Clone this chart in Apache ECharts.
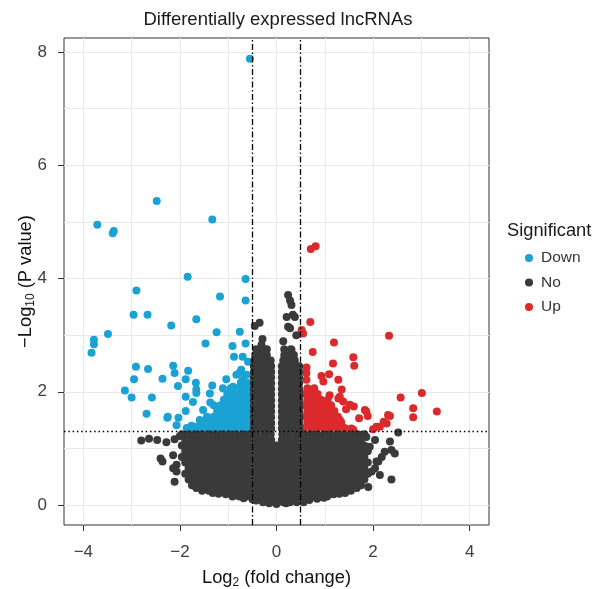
<!DOCTYPE html>
<html><head><meta charset="utf-8">
<script src="https://cdn.jsdelivr.net/npm/echarts@6/dist/echarts.min.js"></script>
<style>html,body{margin:0;padding:0;background:#fff}#c{width:596px;height:589px}</style>
</head><body><div id="c"></div>
<script>
// ---- axes / reference values ----
const xTicks = [-4, -2, 0, 2, 4];
const yTicks = [0, 2, 4, 6, 8];
const xGrid = [-4, -3, -2, -1, 0, 1, 2, 3, 4];
const yGrid = [0, 1, 2, 3, 4, 5, 6, 7, 8];
const fcCut = [-0.5, 0.5];
const pCut = 1.301;
const categories = ['Down', 'No', 'Up'];

// ---- Down (blue) ----
const downPoints = [[-0.55,7.88],[-2.48,5.37],[-3.71,4.95],[-3.39,4.80],[-3.37,4.84],[-1.33,5.04],[-1.84,4.03],[-0.64,3.99],
[-2.90,3.79],[-1.17,3.68],[-0.64,3.61],[-2.96,3.36],[-2.67,3.36],[-2.18,3.17],[-1.66,3.28],[-3.49,3.02],[-3.78,2.92],
[-3.78,2.84],[-3.83,2.69],[-1.24,3.05],[-0.76,3.06],[-1.47,2.85],[-0.91,2.81],[-0.64,2.85],[-0.88,2.62],[-0.70,2.62],
[-0.59,2.53],[-2.91,2.44],[-2.66,2.40],[-2.14,2.46],[-2.11,2.33],[-1.83,2.37],[-2.95,2.22],[-2.36,2.23],[-1.88,2.22],
[-2.04,2.10],[-1.67,2.16],[-1.66,2.04],[-1.66,1.98],[-3.14,2.02],[-3.00,1.90],[-2.58,1.90],[-1.88,1.91],[-1.73,1.82],
[-1.88,1.66],[-2.69,1.61],[-2.26,1.54],[-2.03,1.54],[-2.07,1.41],[-1.33,2.11],[-0.73,2.39],[-0.83,2.30],[-0.62,2.30],
[-1.04,2.22],[-1.11,2.06],[-0.90,2.09],[-0.66,2.15],[-1.38,1.97],[-1.37,1.81],[-1.52,1.68],[-1.59,1.50],[-1.76,1.40],
[-1.66,1.38],[-0.76,2.34],[-0.70,2.21],[-2.25,1.56]];
const downRows = [
 [1.36, [-1.86,-1.72,-1.58,-1.44,-1.30,-1.16,-1.02,-0.88,-0.74,-0.60]],
 [1.46, [-1.51,-1.37,-1.23,-1.09,-0.95,-0.81,-0.67,-0.55]],
 [1.56, [-1.44,-1.30,-1.16,-1.02,-0.88,-0.74,-0.60]],
 [1.66, [-1.23,-1.09,-0.95,-0.81,-0.67,-0.55]],
 [1.76, [-1.30,-1.16,-1.02,-0.88,-0.74,-0.60]],
 [1.86, [-1.09,-0.95,-0.81,-0.67,-0.55]],
 [1.96, [-1.02,-0.88,-0.74,-0.60]],
 [2.06, [-0.95,-0.81,-0.67,-0.55]],
 [2.16, [-0.74,-0.60]]
];

// ---- Up (red) ----
const upPoints = [[0.70,3.23],[0.52,3.09],[0.55,3.03],[2.33,2.99],[1.19,2.87],[0.75,2.70],[1.59,2.61],[1.61,2.46],[1.17,2.50],
[0.62,2.43],[0.62,2.33],[0.62,2.21],[0.93,2.28],[1.09,2.31],[0.97,2.18],[1.28,2.21],[1.35,2.04],[1.10,1.94],[1.28,1.88],
[2.57,1.90],[3.01,1.98],[2.83,1.71],[2.83,1.55],[3.32,1.65],[1.83,1.68],[1.89,1.57],[1.71,1.53],[2.35,1.57],[2.22,1.47],
[2.07,1.38],[2.00,1.34],[1.59,1.33],[1.60,1.74],[1.52,1.77],[1.44,1.69],[1.31,1.91],[1.38,1.83],[0.71,4.52],[0.81,4.57],
[1.55,1.35],[1.86,1.65],[2.31,1.59],[2.28,1.44],[2.14,1.38],[1.31,1.50],[1.24,1.41]];
const upRows = [
 [1.36, [0.57,0.71,0.85,0.99,1.13,1.27,1.41]],
 [1.46, [0.64,0.78,0.92,1.06,1.20,1.34]],
 [1.56, [0.57,0.71,0.85,0.99,1.13,1.27]],
 [1.66, [0.64,0.78,0.92,1.06,1.20]],
 [1.76, [0.57,0.71,0.85,0.99,1.13]],
 [1.86, [0.64,0.78,0.92,1.06]],
 [1.96, [0.57,0.71,0.85]],
 [2.06, [0.64,0.78]]
];

// ---- No (dark grey) ----
const noPoints = [[-0.35,3.22],[-0.45,3.16],[-0.29,2.93],[-0.31,2.83],[0.24,3.71],[0.28,3.61],[0.31,3.53],[0.21,3.32],
[0.34,3.36],[0.38,3.32],[0.24,3.15],[0.28,3.12],[0.41,3.00],[0.14,2.89],[0.31,2.74],[0.34,2.62],
[-2.80,1.14],[-2.64,1.17],[-2.47,1.15],[-2.28,1.11],[-2.11,1.16],[-2.40,0.82],[-2.36,0.77],[-2.11,0.41],[-2.14,0.88],
[-2.14,0.65],[-2.07,0.59],[-2.07,0.71],[-2.00,1.22],
[1.86,1.20],[2.04,1.15],[1.93,1.03],[2.24,0.94],[2.45,0.91],[2.07,0.77],[2.38,0.45],[1.90,0.32],[2.14,0.53],[2.52,1.28],
[2.04,0.65],[1.97,0.59],[2.18,0.85],[2.11,0.77],[2.38,0.97],[2.35,1.12],
[-0.50,0.10],[-0.68,0.12],[-0.42,0.08],[0.68,0.09],[0.84,0.11],[0.98,0.13],[-1.05,0.19],[-1.20,0.20],[-1.32,0.21],
[1.18,0.19],[1.30,0.20],[1.42,0.21],[-1.66,0.30],[1.66,0.30],[-1.72,0.38],[1.70,0.40],[0,0.02],[0.2,0.03],[-0.15,0.03]];
const noRows = [
 [0.05, [-0.28,-0.14,0,0.14,0.28,0.42,0.56]],
 [0.15, [-0.91,-0.77,-0.63,-0.49,-0.35,-0.21,-0.07,0.07,0.21,0.35,0.49,0.63,0.77,0.91,1.05]],
 [0.25, [-1.54,-1.40,-1.26,-1.12,-0.98,-0.84,-0.70,-0.56,-0.42,-0.28,-0.14,0,0.14,0.28,0.42,0.56,0.70,0.84,0.98,1.12,1.26,1.40,1.54]],
 [0.35, [-1.75,-1.61,-1.47,-1.33,-1.19,-1.05,-0.91,-0.77,-0.63,-0.49,-0.35,-0.21,-0.07,0.07,0.21,0.35,0.49,0.63,0.77,0.91,1.05,1.19,1.33,1.47,1.61,1.75]],
 [0.45, [-1.82,-1.68,-1.54,-1.40,-1.26,-1.12,-0.98,-0.84,-0.70,-0.56,-0.42,-0.28,-0.14,0,0.14,0.28,0.42,0.56,0.70,0.84,0.98,1.12,1.26,1.40,1.54,1.68,1.82]],
 [0.55, [-1.89,-1.75,-1.61,-1.47,-1.33,-1.19,-1.05,-0.91,-0.77,-0.63,-0.49,-0.35,-0.21,-0.07,0.07,0.21,0.35,0.49,0.63,0.77,0.91,1.05,1.19,1.33,1.47,1.61,1.75,1.89]],
 [0.65, [-1.82,-1.68,-1.54,-1.40,-1.26,-1.12,-0.98,-0.84,-0.70,-0.56,-0.42,-0.28,-0.14,0,0.14,0.28,0.42,0.56,0.70,0.84,0.98,1.12,1.26,1.40,1.54,1.68,1.82]],
 [0.75, [-1.89,-1.75,-1.61,-1.47,-1.33,-1.19,-1.05,-0.91,-0.77,-0.63,-0.49,-0.35,-0.21,-0.07,0.07,0.21,0.35,0.49,0.63,0.77,0.91,1.05,1.19,1.33,1.47,1.61,1.75,1.89]],
 [0.85, [-1.96,-1.82,-1.68,-1.54,-1.40,-1.26,-1.12,-0.98,-0.84,-0.70,-0.56,-0.42,-0.28,-0.14,0,0.14,0.28,0.42,0.56,0.70,0.84,0.98,1.12,1.26,1.40,1.54,1.68,1.82]],
 [0.95, [-1.89,-1.75,-1.61,-1.47,-1.33,-1.19,-1.05,-0.91,-0.77,-0.63,-0.49,-0.35,-0.21,-0.07,0.07,0.21,0.35,0.49,0.63,0.77,0.91,1.05,1.19,1.33,1.47,1.61,1.75,1.89]],
 [1.05, [-1.96,-1.82,-1.68,-1.54,-1.40,-1.26,-1.12,-0.98,-0.84,-0.70,-0.56,-0.42,-0.28,-0.14,0,0.14,0.28,0.42,0.56,0.70,0.84,0.98,1.12,1.26,1.40,1.54,1.68,1.82]],
 [1.15, [-1.89,-1.75,-1.61,-1.47,-1.33,-1.19,-1.05,-0.91,-0.77,-0.63,-0.49,-0.35,-0.21,-0.11,0.11,0.21,0.35,0.49,0.63,0.77,0.91,1.05,1.19,1.33,1.47,1.61,1.75]],
 [1.25, [-1.96,-1.82,-1.68,-1.54,-1.40,-1.26,-1.12,-0.98,-0.84,-0.70,-0.56,-0.42,-0.26,-0.12,0.12,0.26,0.42,0.56,0.70,0.84,0.98,1.12,1.26,1.40,1.54,1.68,1.82]],
 [1.35, [-0.47,-0.34,-0.22,-0.11,0.11,0.22,0.34,0.47]],
 [1.45, [-0.47,-0.34,-0.22,-0.11,0.11,0.22,0.34,0.47]],
 [1.55, [-0.47,-0.34,-0.22,-0.11,0.11,0.22,0.34,0.47]],
 [1.65, [-0.47,-0.34,-0.22,-0.11,0.11,0.22,0.34,0.47]],
 [1.75, [-0.47,-0.34,-0.22,-0.11,0.11,0.22,0.34,0.47]],
 [1.85, [-0.47,-0.34,-0.22,-0.11,0.11,0.22,0.34,0.47]],
 [1.95, [-0.47,-0.34,-0.22,-0.11,0.11,0.22,0.34,0.47]],
 [2.05, [-0.47,-0.34,-0.22,-0.11,0.11,0.22,0.34,0.47]],
 [2.15, [-0.47,-0.34,-0.22,-0.11,0.11,0.22,0.34,0.47]],
 [2.25, [-0.47,-0.34,-0.22,-0.11,0.11,0.22,0.34,0.47]],
 [2.35, [-0.47,-0.34,-0.22,-0.11,0.11,0.22,0.34,0.47]],
 [2.45, [-0.47,-0.34,-0.22,-0.11,0.11,0.22,0.34,0.47]],
 [2.55, [-0.46,-0.34,-0.22,-0.12,0.14,0.26,0.38]],
 [2.65, [-0.44,-0.32,-0.20,0.16,0.28,0.36]],
 [2.75, [-0.42,-0.30,-0.20,0.16,0.30]]
];

const colors = { Down: '#1BA2D4', No: '#3a3a3a', Up: '#DC2A2C' };
const FONT = '"Liberation Sans", Arial, Helvetica, sans-serif';

function expand(points, rows) {
  const out = points.map(p => [p[0], p[1]]);
  rows.forEach(([y, xs]) => xs.forEach(x => out.push([x, y])));
  return out;
}
const fmt = v => (v < 0 ? '\u2212' : '') + Math.abs(v);

const chart = echarts.init(document.getElementById('c'), null, { renderer: 'canvas' });
const pointSeries = (name, data, z) => ({
  name, type: 'scatter', data, symbol: 'circle', symbolSize: 8, z,
  itemStyle: { color: colors[name], opacity: 1 }, emphasis: { disabled: true }, silent: true
});
const nameRich = {
  a: { fontSize: 18.3, lineHeight: 22, color: '#111', fontFamily: FONT },
  s: { fontSize: 12, lineHeight: 12, verticalAlign: 'bottom', color: '#111', fontFamily: FONT }
};

chart.setOption({
  animation: false,
  textStyle: { fontFamily: FONT },
  grid: { left: 64, right: 107, top: 38, bottom: 64, show: true, borderColor: '#333', borderWidth: 1,
          backgroundColor: '#fff', containLabel: false, outerBoundsMode: 'none' },
  xAxis: {
    type: 'value', min: -4.4, max: 4.4,
    axisLine: { show: false, onZero: false },
    splitLine: { show: false },
    axisTick: { show: true, customValues: xTicks, length: 6, lineStyle: { color: '#333', width: 1 } },
    axisLabel: { customValues: xTicks, formatter: fmt, fontSize: 17, color: '#404040', margin: 19, fontFamily: FONT },
    name: '{a|Log}{s|2}{a| (fold change)}', nameLocation: 'middle', nameGap: 42, nameMoveOverlap: false,
    nameTextStyle: { rich: nameRich }
  },
  yAxis: {
    type: 'value', min: -0.353, max: 8.247,
    axisLine: { show: false, onZero: false },
    splitLine: { show: false },
    axisTick: { show: true, customValues: yTicks, length: 6, lineStyle: { color: '#333', width: 1 } },
    axisLabel: { customValues: yTicks, formatter: fmt, fontSize: 17, color: '#404040', margin: 17, fontFamily: FONT },
    name: '{a|\u2212Log}{s|10}{a| (P value)}', nameLocation: 'middle', nameGap: 27, nameRotate: 90, nameMoveOverlap: false,
    nameTextStyle: { rich: nameRich }
  },
  legend: {
    data: categories, orient: 'vertical', left: 520, top: 245,
    icon: 'circle', itemWidth: 14, itemHeight: 8, itemGap: 8.5, selectedMode: false,
    textStyle: { fontSize: 15.5, lineHeight: 16, color: '#333', fontFamily: FONT }
  },
  graphic: [
    { type: 'text', x: 278, y: 20, silent: true,
      style: { text: 'Differentially expressed lncRNAs', fontSize: 18.5, fontFamily: FONT, fill: '#1a1a1a',
               align: 'center', verticalAlign: 'middle', textAlign: 'center', textVerticalAlign: 'middle' } },
    { type: 'text', x: 507, y: 231, silent: true,
      style: { text: 'Significant', fontSize: 18.3, fontFamily: FONT, fill: '#1a1a1a',
               align: 'left', verticalAlign: 'middle', textAlign: 'left', textVerticalAlign: 'middle' } }
  ],
  series: [
    { name: 'gridlines', type: 'scatter', data: [], z: 0, silent: true,
      markLine: { z: 0, silent: true, symbol: ['none', 'none'], label: { show: false }, animation: false,
        lineStyle: { color: '#e9e9e9', width: 1, type: 'solid' }, emphasis: { disabled: true },
        data: xGrid.map(v => ({ xAxis: v })).concat(yGrid.map(v => ({ yAxis: v }))) } },
    pointSeries('Down', expand(downPoints, downRows), 2),
    pointSeries('Up', expand(upPoints, upRows), 2),
    pointSeries('No', expand(noPoints, noRows), 3),
    { name: 'cutoffs', type: 'scatter', data: [], z: 10, silent: true,
      markLine: { z: 10, silent: true, symbol: ['none', 'none'], label: { show: false }, animation: false, emphasis: { disabled: true },
        data: fcCut.map(v => ({ xAxis: v, lineStyle: { color: '#000', width: 1.3, type: [6, 2.5, 1.5, 2.5] } }))
          .concat([{ yAxis: pCut, lineStyle: { color: '#000', width: 1.4, type: [1.5, 2.8] } }]) } }
  ]
});
</script></body></html>
